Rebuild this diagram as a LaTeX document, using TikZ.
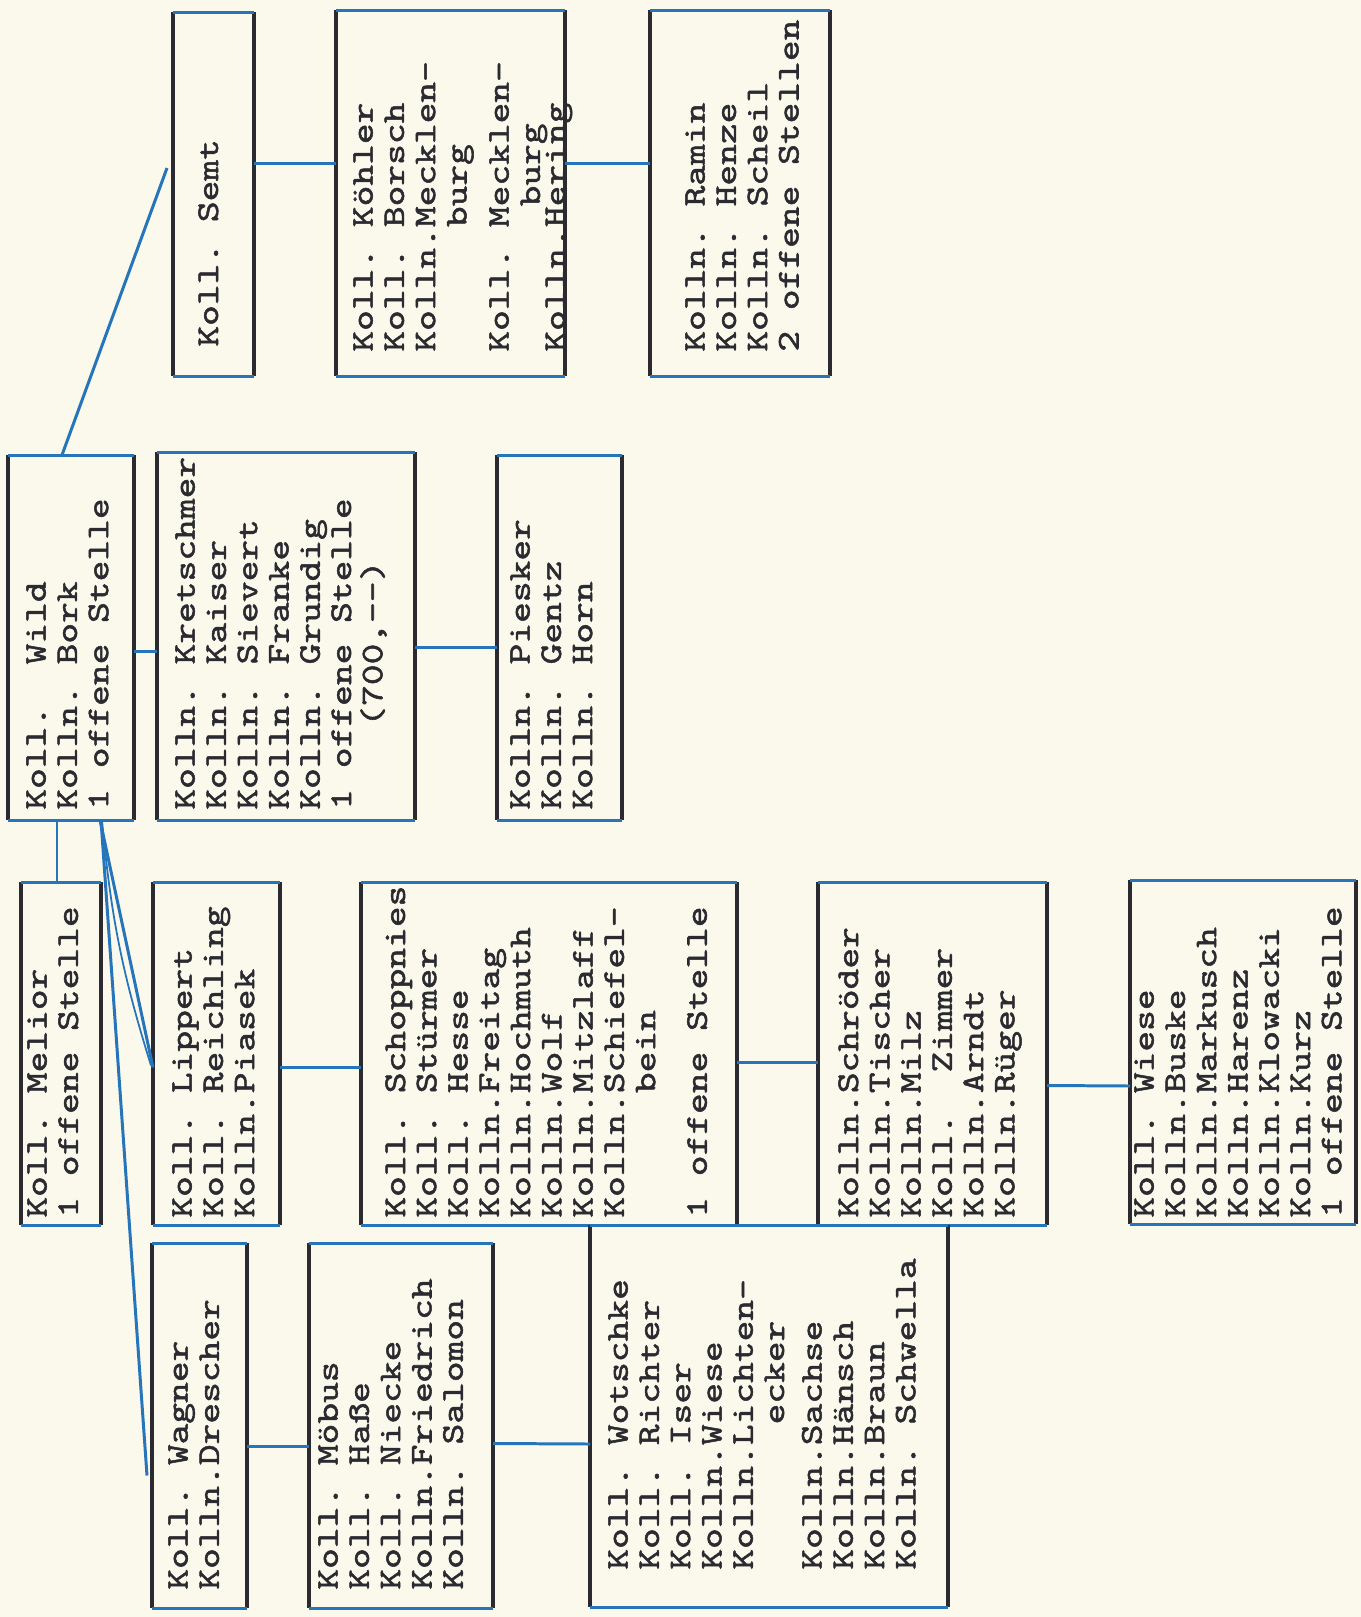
\documentclass[tikz,border=0pt]{standalone}
\usepackage{fontspec}
\newfontfamily\typew[FakeStretch=1.25,FakeBold=1.6]{lmmono10-regular.otf}
\usetikzlibrary{calc,fit}
\definecolor{paper}{RGB}{250,249,236}
\definecolor{penblue}{RGB}{38,116,186}
\definecolor{typeink}{RGB}{42,42,48}
\newcommand{\skipc}[1]{\hspace*{#1\fontcharwd\font`\M}}
\begin{document}
\begin{tikzpicture}[x=0.02cm,y=-0.02cm,
  cell/.style={inner sep=0pt,outer sep=0pt},
  typed/.style={rotate=90,anchor=north west,inner sep=0pt,align=left,text=typeink,
    font=\typew\fontsize{18}{17.8}\selectfont\frenchspacing},
  pen/.style={draw=penblue,line width=1.7pt},
  ink/.style={draw=typeink,line width=1.9pt}]
\fill[paper] (0,0) rectangle (1361,1617);
\useasboundingbox (0,0) rectangle (1361,1617);
\node[cell,fit={(173,12) (254,376)}] (semt) {};
\node[cell,fit={(336,10) (565,376)}] (koehler) {};
\node[cell,fit={(650,10) (830,376)}] (ramin) {};
\node[cell,fit={(8,455) (134,820)}] (wild) {};
\node[cell,fit={(157,452) (415,820)}] (kretschmer) {};
\node[cell,fit={(497,455) (622,820)}] (piesker) {};
\node[cell,fit={(21,882) (101,1225)}] (melior) {};
\node[cell,fit={(153,882) (280,1225)}] (lippert) {};
\node[cell,fit={(361,882) (737,1225)}] (schoppnies) {};
\node[cell,fit={(818,882) (1047,1225)}] (schroeder) {};
\node[cell,fit={(1130,880) (1356,1224)}] (wiese) {};
\node[cell,fit={(152,1243) (247,1608)}] (wagner) {};
\node[cell,fit={(309,1243) (493,1608)}] (moebus) {};
\node[cell,fit={(590,1225) (948,1607)}] (wotschke) {};
\foreach \b in {semt,koehler,ramin,wild,kretschmer,piesker,melior,lippert,schoppnies,schroeder,wiese,wagner,moebus,wotschke}{
  \draw[ink] (\b.north west) -- (\b.south west) (\b.north east) -- (\b.south east);
  \draw[pen] (\b.north west) -- (\b.north east) (\b.south west) -- (\b.south east);
}
\node[typed] (semt-t) at (198,347) {Koll. Semt};
\node[typed] (koehler-t) at (353,352) {Koll. Köhler\\Koll. Borsch\\Kolln.Mecklen-\\\skipc{6}burg\\[0.35\baselineskip]Koll. Mecklen-\\\skipc{7}burg\\[-0.2\baselineskip]Kolln.Hering};
\node[typed] (ramin-t) at (685,352) {Kolln. Ramin\\Kolln. Henze\\Kolln. Scheil\\2 offene Stellen};
\node[typed] (wild-t) at (26,810) {Koll.\ \ Wild\\Kolln. Bork\\1 offene Stelle};
\node[typed] (kretschmer-t) at (175,810) {Kolln. Kretschmer\\Kolln. Kaiser\\Kolln. Sievert\\Kolln. Franke\\Kolln. Grundig\\1 offene Stelle\\\skipc{4}(700,--)};
\node[typed] (piesker-t) at (510,810) {Kolln. Piesker\\Kolln. Gentz\\Kolln. Horn};
\node[typed] (melior-t) at (27,1218) {Koll. Melior\\1 offene Stelle};
\node[typed] (lippert-t) at (172,1218) {Koll. Lippert\\Koll. Reichling\\Kolln.Piasek};
\node[typed] (schoppnies-t) at (385,1218) {Koll. Schoppnies\\Koll. Stürmer\\Koll. Hesse\\Kolln.Freitag\\Kolln.Hochmuth\\Kolln.Wolf\\Kolln.Mitzlaff\\Kolln.Schiefel-\\\skipc{6}bein\\[0.65\baselineskip]1 offene Stelle};
\node[typed] (schroeder-t) at (838,1218) {Kolln.Schröder\\Kolln.Tischer\\Kolln.Milz\\Koll.\ \ Zimmer\\Kolln.Arndt\\Kolln.Rüger};
\node[typed] (wiese-t) at (1134,1218) {Koll. Wiese\\Kolln.Buske\\Kolln.Markusch\\Kolln.Harenz\\Kolln.Klowacki\\Kolln.Kurz\\1 offene Stelle};
\node[typed] (wagner-t) at (168,1590) {Koll. Wagner\\Kolln.Drescher};
\node[typed] (moebus-t) at (318,1590) {Koll. Möbus\\Koll. Haße\\Koll. Niecke\\Kolln.Friedrich\\Kolln. Salomon};
\node[typed] (wotschke-t) at (608,1570) {Koll. Wotschke\\Koll. Richter\\Koll. Iser\\Kolln.Wiese\\Kolln.Lichten-\\\skipc{7}ecker\\[0.2\baselineskip]Kolln.Sachse\\Kolln.Hänsch\\Kolln.Braun\\Kolln. Schwella};
\draw[pen] ($(wild.north)+(-9,0)$) -- ($(semt.west)+(-6,-26)$);
\draw[pen] ($(semt.east)+(0,-31)$) -- ($(koehler.west)+(0,-30)$);
\draw[pen] ($(koehler.east)+(0,-30)$) -- ($(ramin.west)+(0,-30)$);
\draw[pen] ($(wild.east)+(0,13.5)$) -- ($(kretschmer.west)+(0,15)$);
\draw[pen] ($(kretschmer.east)+(0,11)$) -- ($(piesker.west)+(0,9.5)$);
\draw[pen] ($(wild.south)+(-14,0)$) -- ($(melior.north)+(-4,0)$);
\draw[pen] ($(wild.south)+(29,0)$) -- ($(lippert.west)+(0,14)$);
\draw[pen,line width=1pt] ($(wild.south)+(31,0)$) to[bend right=6] ($(lippert.west)+(-2,12)$);
\draw[pen] ($(wild.south)+(30,0)$) -- ($(wagner.west)+(-5,50)$);
\draw[pen] ($(lippert.east)+(0,14)$) -- ($(schoppnies.west)+(0,14)$);
\draw[pen] ($(schoppnies.east)+(0,8.5)$) -- ($(schroeder.west)+(0,8.5)$);
\draw[pen] ($(schroeder.east)+(0,32)$) -- ($(wiese.west)+(0,34)$);
\draw[pen] ($(wagner.east)+(0,21)$) -- ($(moebus.west)+(0,21)$);
\draw[pen] ($(moebus.east)+(0,18)$) -- ($(wotschke.west)+(0,28)$);
\end{tikzpicture}
\end{document}
